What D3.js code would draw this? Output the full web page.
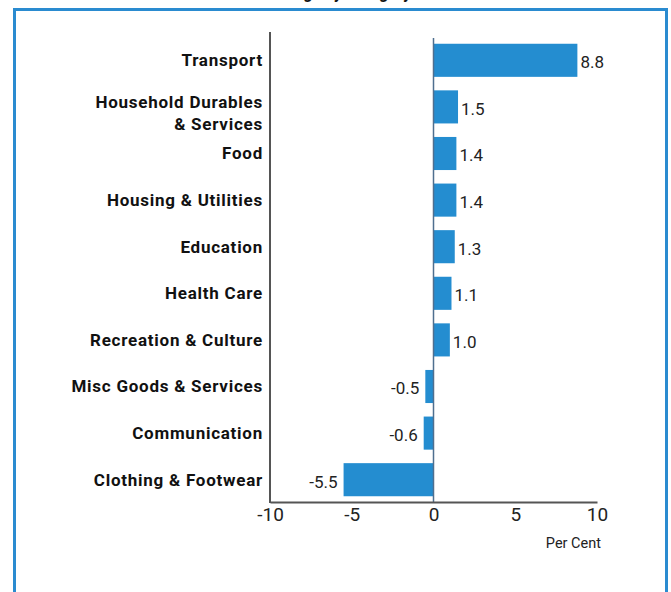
<!DOCTYPE html>
<html>
<head>
<meta charset="utf-8">
<script src="https://cdn.jsdelivr.net/npm/d3@7"></script>
<style>
  html, body { margin: 0; padding: 0; background: #fff; }
  svg { display: block; font-family: Roboto, "Noto Sans", sans-serif; }
</style>
</head>
<body>
<svg id="chart" width="671" height="592"></svg>
<script>
// Contribution to price change by category, per cent
const categories = [
  "Transport",
  "Household Durables\n& Services",
  "Food",
  "Housing & Utilities",
  "Education",
  "Health Care",
  "Recreation & Culture",
  "Misc Goods & Services",
  "Communication",
  "Clothing & Footwear"
];
const values = [8.8, 1.5, 1.4, 1.4, 1.3, 1.1, 1.0, -0.5, -0.6, -5.5];
const xTicks = [-10, -5, 0, 5, 10];
const chartTitle = "Price Change by Category";
const axisTitle = "Per Cent";

const barColor = "#248dd0";
const frameColor = "#2a8bd0";
const axisColor = "#555555";

const svg = d3.select("#chart");

// Frame around the panel
svg.append("rect")
  .attr("x", 14.5).attr("y", 9.5)
  .attr("width", 652).attr("height", 600)
  .attr("fill", "none")
  .attr("stroke", frameColor)
  .attr("stroke-width", 3);

// Title sits above the frame
svg.append("text")
  .attr("x", 318).attr("y", -1)
  .attr("text-anchor", "middle")
  .attr("font-size", 16)
  .attr("font-weight", "bold")
  .attr("fill", "#111")
  .text(chartTitle);

const x = d3.scaleLinear().domain([-10, 10]).range([270, 597]);
const y = d3.scaleBand()
  .domain(categories)
  .range([37, 503])
  .paddingInner(0.29)
  .paddingOuter(0.145);

const data = categories.map((c, i) => ({ cat: c, v: values[i] }));

// Bars
svg.append("g").selectAll("rect")
  .data(data)
  .join("rect")
  .attr("x", d => x(Math.min(0, d.v)))
  .attr("y", d => y(d.cat))
  .attr("width", d => Math.abs(x(d.v) - x(0)))
  .attr("height", y.bandwidth())
  .attr("fill", barColor);

// Zero line
svg.append("line")
  .attr("x1", x(0)).attr("x2", x(0))
  .attr("y1", 38).attr("y2", 502)
  .attr("stroke", "#4f6f8f")
  .attr("stroke-width", 1.5);

// Left axis line
svg.append("line")
  .attr("x1", x(-10)).attr("x2", x(-10))
  .attr("y1", 32).attr("y2", 503)
  .attr("stroke", axisColor)
  .attr("stroke-width", 2);

// Bottom axis
const xAxis = d3.axisBottom(x)
  .tickValues(xTicks)
  .tickSize(0)
  .tickPadding(6)
  .tickFormat(d => d < 0 ? "-" + Math.abs(d) : String(d));

const gx = svg.append("g")
  .attr("transform", "translate(0,502)")
  .call(xAxis);
gx.select(".domain").attr("stroke", axisColor).attr("stroke-width", 2);
gx.selectAll("text")
  .attr("font-size", 19)
  .attr("font-family", "Roboto, sans-serif")
  .attr("fill", "#222");

svg.append("text")
  .attr("x", 601).attr("y", 548)
  .attr("text-anchor", "end")
  .attr("font-size", 14.5)
  .attr("fill", "#222")
  .text(axisTitle);

// Category labels
const labels = svg.append("g").selectAll("text")
  .data(data)
  .join("text")
  .attr("x", 263)
  .attr("text-anchor", "end")
  .attr("font-size", 17)
  .attr("font-weight", "bold")
  .attr("letter-spacing", 0.75)
  .attr("fill", "#111");

labels.each(function(d) {
  const lines = d.cat.split("\n");
  const cy = y(d.cat) + y.bandwidth() / 2;
  const t = d3.select(this);
  if (lines.length === 1) {
    t.attr("y", cy).attr("dy", "0.35em").text(lines[0]);
  } else {
    lines.forEach((ln, k) => {
      t.append("tspan")
        .attr("x", 263)
        .attr("y", cy - 5 + k * 22)
        .attr("dy", "0.35em")
        .text(ln);
    });
  }
});

// Value labels
svg.append("g").selectAll("text")
  .data(data)
  .join("text")
  .attr("x", d => d.v >= 0 ? x(d.v) + 3 : x(d.v) - 6)
  .attr("y", d => y(d.cat) + y.bandwidth() / 2 + 2)
  .attr("dy", "0.35em")
  .attr("text-anchor", d => d.v >= 0 ? "start" : "end")
  .attr("font-size", 17)
  .attr("fill", "#222")
  .text(d => d.v.toFixed(1));
</script>
</body>
</html>
